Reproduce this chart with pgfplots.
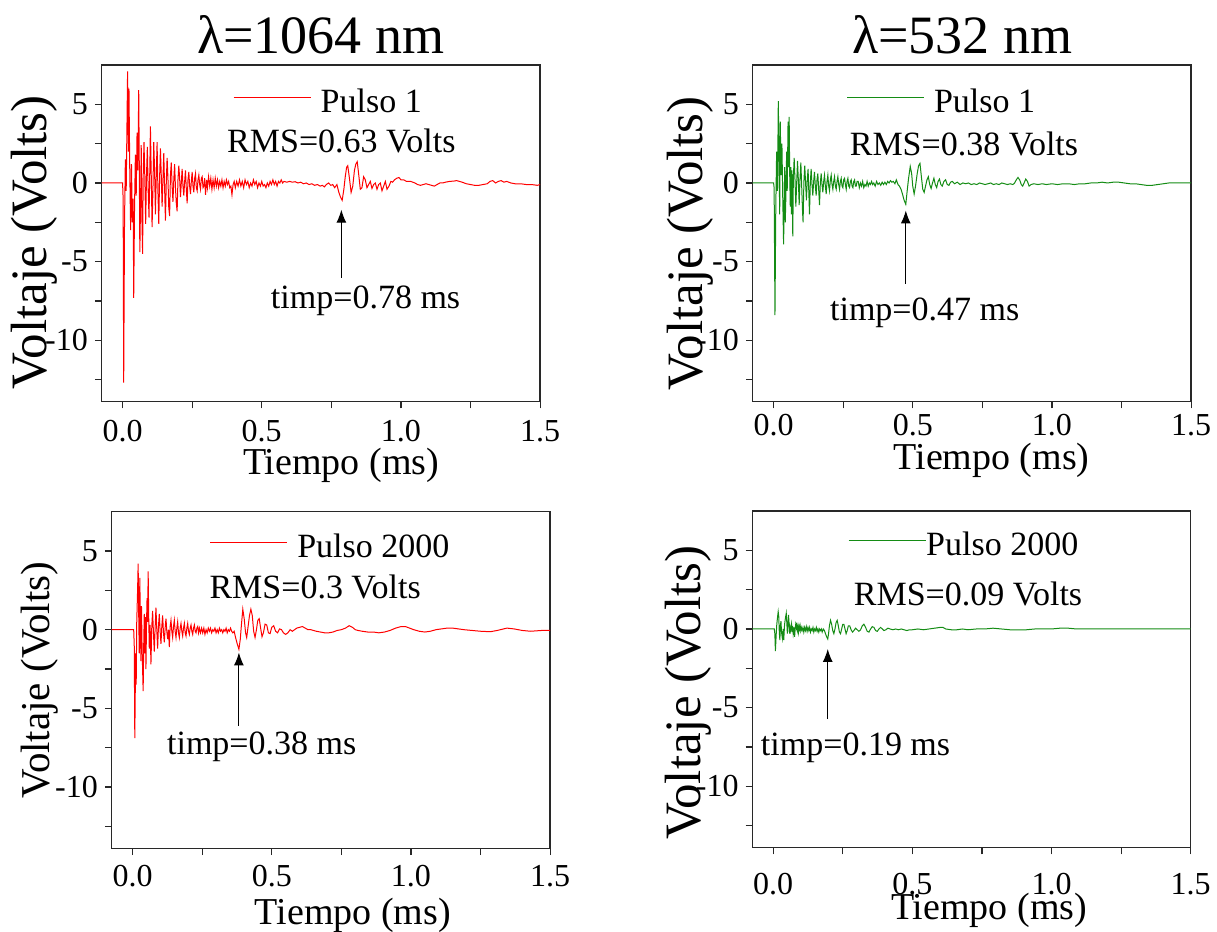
\documentclass[border=0pt]{standalone}
\usepackage{fontspec}
\setmainfont{Liberation Serif}
\usepackage{pgfplots}
\pgfplotsset{compat=1.18}
\usetikzlibrary{arrows.meta}
\definecolor{myred}{RGB}{255,0,0}
\definecolor{mygreen}{RGB}{20,140,20}
\definecolor{axgray}{RGB}{40,40,40}
\tikzset{
 ann/.style={font=\fontsize{17}{17}\selectfont, anchor=base, inner sep=0pt},
 arr/.style={line width=0.55pt, -{Latex[length=6.5pt,width=5pt]}},
}
\pgfplotsset{
 panel/.style={
  scale only axis, width=219.2pt, height=168.3pt,
  xmin=-0.075, xmax=1.5, ymin=-13.9, ymax=7.5,
  xtick={0,0.5,1,1.5}, xticklabels={0.0,0.5,1.0,1.5},
  ytick={-10,-5,0,5}, yticklabels={-10,-5,0,5},
  minor xtick={0.25,0.75,1.25}, minor ytick={-12.5,-7.5,-2.5,2.5},
  tick align=outside, tick pos=left,
  major tick length=3.35pt, minor tick length=3.35pt,
  axis line style={line width=0.75pt, draw=axgray},
  every tick/.style={line width=0.6pt, draw=axgray},
  xticklabel style={font=\fontsize{16}{16}\selectfont, anchor=base, inner sep=0pt},
  yticklabel style={font=\fontsize{16}{16}\selectfont, anchor=east, inner sep=0pt},
  yticklabel shift=3.35pt,
  xlabel={Tiempo (ms)}, ylabel={Voltaje (Volts)},
  xlabel style={font=\fontsize{19}{19}\selectfont, anchor=base, inner sep=0pt},
  ylabel style={anchor=base, inner sep=0pt},
  title style={font=\fontsize{27}{27}\selectfont, anchor=base, inner sep=0pt},
  legend style={draw=none, fill=none, inner sep=0pt, outer sep=0pt, font=\fontsize{17}{17}\selectfont, anchor=west, nodes={inner sep=0pt}},
  legend image code/.code={\draw[##1] (0pt,2.3pt) -- (38.5pt,2.3pt); \path[draw=none,fill=none] (0pt,-6pt) rectangle (43.5pt,6pt);},
  every axis plot/.append style={line width=0.5pt},
 },
}
\begin{document}
\begin{tikzpicture}
\useasboundingbox (0,0) rectangle (608.5pt,-466pt);
% ---------------- top left
\begin{axis}[panel, at={(50.85pt,-32.5pt)}, anchor=north west,
  title={λ=1064 nm}, title style={at={(axis description cs:0.5,1)}},
  xticklabel shift=16.65pt,
  xlabel style={at={(axis description cs:0.546,-0.2168)}},
  ylabel style={font=\fontsize{25.5}{25.5}\selectfont, at={(axis description cs:-0.1255,0.473)}},
  legend style={at={(axis description cs:0.300,0.8895)}}]
\addplot[myred] coordinates {
(-0.075,0) (0.000,0) (0.002,-1.0) (0.004,-12.7) (0.007,-2.5) (0.010,1.5) (0.013,-0.5) (0.016,4.0) (0.018,7.1) (0.021,2.0)
(0.023,6.0) (0.026,0.5) (0.029,-3.0) (0.032,1.2) (0.035,-2.5) (0.038,-1.0) (0.040,-7.3) (0.043,-1.5) (0.046,1.8) (0.049,-0.8)
(0.052,3.2) (0.055,0.8) (0.058,5.9) (0.060,1.2) (0.062,-4.4) (0.065,-0.8) (0.067,2.4) (0.069,-1.8) (0.072,-4.5) (0.074,0.4)
(0.077,2.6) (0.080,0.3) (0.083,-2.6) (0.086,0.5) (0.089,2.3) (0.092,-0.5) (0.095,-2.2) (0.098,1.0) (0.100,3.6) (0.103,0.5)
(0.106,-2.8) (0.109,-0.5) (0.112,2.6) (0.115,0.8) (0.118,-2.0) (0.121,0.4) (0.124,2.6) (0.127,-0.5) (0.130,-2.6) (0.133,0.3)
(0.136,2.2) (0.139,0.5) (0.142,-1.5) (0.145,0.2) (0.148,1.9) (0.151,-0.3) (0.154,-2.4) (0.157,0.0) (0.160,1.6) (0.163,0.3)
(0.166,-1.6) (0.169,-2.1) (0.172,0.5) (0.175,1.3) (0.178,-0.2) (0.181,-1.2) (0.184,0.2) (0.187,1.2) (0.190,-0.3) (0.193,-1.3)
(0.196,-1.8) (0.199,0.2) (0.202,1.1) (0.205,0.3) (0.208,-0.9) (0.211,0.0) (0.214,0.9) (0.217,-0.2) (0.220,-0.8) (0.223,0.1)
(0.226,0.8) (0.229,-0.4) (0.232,-1.3) (0.235,0.2) (0.238,0.7) (0.241,-0.2) (0.244,-0.7) (0.247,0.1) (0.250,0.7) (0.253,-0.2)
(0.256,-0.6) (0.259,0.3) (0.262,0.6) (0.265,-0.3) (0.268,-0.5) (0.271,0.2) (0.274,0.5) (0.277,-0.1) (0.280,-0.4) (0.283,0.3)
(0.286,0.4) (0.289,-0.3) (0.292,-0.2) (0.295,0.3) (0.298,-0.75) (0.302,0.2)
(0.305,-0.3) (0.309,0.4) (0.313,-0.2) (0.317,0.3) (0.321,-0.4) (0.325,0.2) (0.329,-0.3)
(0.333,0.3) (0.337,-0.2) (0.341,0.2) (0.345,-0.3) (0.349,0.1) (0.353,-0.2) (0.357,0.2) (0.361,-0.3) (0.365,0.1) (0.369,-0.2)
(0.373,0.2) (0.377,-0.1) (0.381,0.1) (0.385,-0.3) (0.389,-0.2) (0.393,-0.75) (0.397,-0.1) (0.401,0.1) (0.405,-0.3) (0.410,0.1)
(0.415,-0.2) (0.420,0.2) (0.425,-0.2) (0.430,0.1) (0.435,-0.3) (0.440,0.2) (0.445,-0.1) (0.450,0.1) (0.455,-0.3) (0.460,0.0)
(0.465,-0.2) (0.470,0.2) (0.475,-0.1) (0.480,0.1) (0.485,-0.3) (0.490,0.0) (0.495,-0.2) (0.500,0.1) (0.505,-0.2) (0.510,-0.1)
(0.515,-0.3) (0.520,0.0) (0.525,-0.2) (0.530,0.1) (0.535,-0.1) (0.540,0.2) (0.545,-0.1) (0.550,0.1) (0.555,-0.2) (0.560,0.1)
(0.565,0.0) (0.570,0.2) (0.575,0.0) (0.580,0.1) (0.590,0.05) (0.600,0.1) (0.610,0.05) (0.620,0.08) (0.630,0.0) (0.640,0.05)
(0.650,-0.05) (0.660,0.0) (0.670,-0.1) (0.680,-0.05) (0.690,-0.15) (0.700,-0.1) (0.710,-0.2) (0.718,-0.15) (0.725,-0.25) (0.732,-0.1)
(0.740,0.0) (0.748,-0.15) (0.755,-0.1) (0.762,-0.3) (0.770,-0.1) (0.777,-0.6) (0.783,-0.9) (0.789,-1.1) (0.795,-0.4) (0.800,0.4)
(0.805,1.0) (0.809,1.1) (0.815,0.3) (0.821,-0.6) (0.827,-0.2) (0.833,0.8) (0.838,1.2) (0.843,1.35) (0.848,0.6) (0.854,-0.4)
(0.860,-0.3) (0.866,0.4) (0.872,0.2) (0.878,-0.3) (0.884,-0.1) (0.890,0.1) (0.896,-0.35) (0.902,-0.1) (0.908,0.0) (0.914,-0.4)
(0.920,-0.1) (0.926,0.0) (0.932,-0.5) (0.938,-0.2) (0.944,0.1) (0.950,-0.4) (0.957,-0.2) (0.964,0.1) (0.970,0.05) (0.977,0.2)
(0.985,0.3) (0.993,0.35) (1.000,0.2) (1.010,0.2) (1.020,0.1) (1.035,0.1) (1.050,0.0) (1.060,-0.1) (1.070,-0.15) (1.080,-0.1)
(1.090,-0.05) (1.100,-0.1) (1.110,-0.15) (1.120,-0.2) (1.130,-0.1) (1.140,0.0) (1.150,0.0) (1.160,0.05) (1.175,0.1) (1.190,0.12)
(1.200,0.15) (1.210,0.1) (1.220,0.05) (1.235,-0.05) (1.250,-0.1) (1.265,-0.15) (1.280,-0.15) (1.295,-0.1) (1.310,-0.05) (1.320,0.1)
(1.330,0.15) (1.340,0.0) (1.350,0.1) (1.360,0.15) (1.370,0.05) (1.380,0.1) (1.395,0.0) (1.410,-0.05) (1.430,-0.05) (1.450,-0.1)
(1.470,-0.1) (1.490,-0.15) (1.500,-0.1)
};
\addlegendentry{Pulso 1}
\node[ann] at (axis cs:0.786,1.95) {RMS=0.63 Volts};
\node[ann] at (axis cs:0.873,-7.95) {timp=0.78 ms};
\draw[arr] (axis cs:0.786,-6.04) -- (axis cs:0.786,-1.7);
\end{axis}
% ---------------- top right
\begin{axis}[panel, at={(376.35pt,-32.5pt)}, anchor=north west,
  title={λ=532 nm}, title style={at={(axis description cs:0.478,1)}},
  xticklabel shift=13.65pt,
  xlabel style={at={(axis description cs:0.545,-0.202)}},
  ylabel style={font=\fontsize{25.5}{25.5}\selectfont, at={(axis description cs:-0.114,0.47)}},
  legend style={at={(axis description cs:0.214,0.8895)}}]
\addplot[mygreen] coordinates {
(-0.078,0) (0.000,0) (0.002,-0.3) (0.005,-8.4) (0.008,-1.5) (0.011,2.0) (0.014,-0.5) (0.017,5.2) (0.020,1.0) (0.022,-2.0)
(0.024,3.9) (0.027,0.5) (0.030,2.5) (0.033,-1.0) (0.036,-3.9) (0.038,-1.5) (0.040,1.0) (0.042,-2.5) (0.044,-1.0) (0.047,2.0)
(0.049,-0.5) (0.052,3.9) (0.054,1.0) (0.056,4.2) (0.058,0.5) (0.060,-1.5) (0.062,1.0) (0.064,-2.0) (0.066,0.8) (0.069,-3.4)
(0.071,0.3) (0.074,1.6) (0.077,0.2) (0.080,-1.5) (0.083,0.0) (0.086,1.4) (0.089,0.2) (0.092,-1.4) (0.095,0.3) (0.098,1.3)
(0.101,-0.2) (0.104,-1.8) (0.106,-2.5) (0.109,0.1) (0.112,1.1) (0.115,0.0) (0.118,-1.1) (0.121,0.2) (0.124,0.9) (0.127,-0.8)
(0.129,-2.0) (0.132,0.0) (0.135,0.9) (0.138,-0.1) (0.141,-0.8) (0.144,0.1) (0.147,0.7) (0.150,-0.2) (0.153,-0.8) (0.156,0.2)
(0.159,0.6) (0.162,-0.4) (0.165,-1.4) (0.168,0.0) (0.171,0.6) (0.174,-0.1) (0.177,-0.6) (0.180,0.1) (0.183,0.5) (0.186,-0.2)
(0.189,-0.7) (0.192,0.1) (0.195,0.5) (0.198,-0.2) (0.201,-0.5) (0.204,0.2) (0.207,0.5) (0.210,-0.1) (0.213,-0.4) (0.216,0.1)
(0.219,0.4) (0.222,-0.2) (0.225,-0.4) (0.228,0.1) (0.231,0.4) (0.234,-0.1) (0.237,-0.4) (0.240,0.1) (0.243,0.3) (0.246,-0.2)
(0.249,-0.3) (0.252,0.2) (0.255,0.3) (0.258,-0.1) (0.261,-0.4) (0.264,0.1) (0.267,0.3) (0.270,-0.2) (0.273,-0.3) (0.276,0.1)
(0.279,0.2) (0.282,-0.2) (0.285,-0.3) (0.288,0.1) (0.291,0.2) (0.294,-0.2) (0.297,-0.2) (0.300,0.1)
(0.304,0.1) (0.308,-0.3) (0.312,0.0) (0.316,-0.2) (0.320,0.1) (0.324,-0.3) (0.328,-0.1) (0.332,-0.2) (0.336,0.1) (0.340,-0.2)
(0.344,0.0) (0.348,-0.1) (0.352,0.1) (0.356,-0.1) (0.360,0.0) (0.365,-0.2) (0.370,0.1) (0.375,-0.1) (0.380,0.0) (0.385,-0.15)
(0.390,0.05) (0.395,-0.1) (0.400,0.05) (0.405,-0.1) (0.410,0.1) (0.415,0.0) (0.420,0.15) (0.425,0.05) (0.430,0.1) (0.436,-0.05)
(0.441,0.2) (0.447,-0.1) (0.452,-0.2) (0.458,-0.4) (0.463,-0.7) (0.469,-1.1) (0.475,-1.36) (0.480,-0.5) (0.485,0.3) (0.491,1.05)
(0.496,0.6) (0.500,-0.2) (0.505,-0.7) (0.510,-0.2) (0.516,0.6) (0.521,1.1) (0.526,1.25) (0.531,0.4) (0.536,-0.4) (0.541,-0.6)
(0.546,-0.2) (0.551,0.2) (0.556,0.4) (0.561,-0.1) (0.566,-0.35) (0.571,0.0) (0.576,0.3) (0.581,-0.1) (0.586,-0.3) (0.591,0.1)
(0.596,0.25) (0.601,-0.1) (0.606,-0.2) (0.612,0.1) (0.618,0.2) (0.624,-0.1) (0.630,-0.15) (0.636,0.05) (0.642,0.1) (0.650,-0.05)
(0.660,0.05) (0.670,-0.1) (0.680,0.0) (0.690,-0.05) (0.700,0.0) (0.710,-0.1) (0.720,-0.05) (0.730,-0.1) (0.740,0.0) (0.750,-0.05)
(0.760,-0.1) (0.770,-0.05) (0.780,0.0) (0.790,-0.1) (0.800,-0.05) (0.810,-0.1) (0.820,0.0) (0.830,-0.05) (0.840,-0.1) (0.850,-0.05)
(0.860,-0.1) (0.866,0.0) (0.872,0.2) (0.878,0.35) (0.884,0.2) (0.890,-0.1) (0.895,-0.2) (0.900,0.0) (0.906,0.25) (0.912,0.1)
(0.918,-0.2) (0.925,-0.1) (0.935,-0.05) (0.950,-0.1) (0.965,-0.05) (0.980,-0.1) (1.000,-0.05) (1.020,-0.1) (1.040,-0.05) (1.060,-0.05)
(1.080,-0.1) (1.100,-0.05) (1.120,-0.05) (1.140,0.0) (1.160,0.0) (1.180,0.05) (1.200,0.0) (1.220,0.05) (1.240,0.05) (1.260,0.0)
(1.280,-0.05) (1.300,-0.05) (1.320,-0.1) (1.340,-0.15) (1.360,-0.15) (1.380,-0.1) (1.400,-0.05) (1.420,0.0) (1.440,0.0) (1.460,0.0)
(1.480,0.0) (1.500,0.0)
};
\addlegendentry{Pulso 1}
\node[ann] at (axis cs:0.684,1.77) {RMS=0.38 Volts};
\node[ann] at (axis cs:0.543,-8.73) {timp=0.47 ms};
\draw[arr] (axis cs:0.475,-6.4) -- (axis cs:0.475,-1.75);
\end{axis}
% ---------------- bottom left
\begin{axis}[panel, at={(55.85pt,-255.85pt)}, anchor=north west,
  xticklabel shift=15.85pt,
  xlabel style={at={(axis description cs:0.55,-0.226)}},
  ylabel style={font=\fontsize{20.5}{20.5}\selectfont, at={(axis description cs:-0.1427,0.5)}},
  legend style={at={(axis description cs:0.2238,0.8945)}}]
\addplot[myred] coordinates {
(-0.075,0) (0.000,0) (0.004,0.0) (0.006,-1.0) (0.008,-6.9) (0.011,-1.5) (0.013,-3.5) (0.015,0.5) (0.018,2.5) (0.020,4.2)
(0.022,1.0) (0.024,-1.5) (0.026,3.3) (0.028,0.5) (0.030,-2.0) (0.032,1.5) (0.034,-1.0) (0.036,-2.5) (0.038,-3.9) (0.040,-1.0)
(0.042,1.0) (0.044,-1.5) (0.046,0.8) (0.048,-2.5) (0.050,0.3) (0.052,2.0) (0.054,0.5) (0.056,3.7) (0.058,0.8) (0.060,-1.2)
(0.063,0.3) (0.066,-2.2) (0.069,0.2) (0.072,1.2) (0.075,-0.2) (0.078,-1.4) (0.081,0.1) (0.084,1.4) (0.087,0.0) (0.090,-1.2)
(0.093,0.2) (0.096,1.0) (0.099,-0.1) (0.102,-0.9) (0.105,0.2) (0.108,0.9) (0.111,-0.2) (0.114,-0.8) (0.117,0.1) (0.120,0.7)
(0.123,-0.1) (0.126,-0.6) (0.129,0.0) (0.132,-1.1) (0.135,0.2) (0.138,0.6) (0.141,-0.1) (0.144,-0.5) (0.147,0.2) (0.150,0.6)
(0.153,-0.1) (0.156,-0.5) (0.159,0.1) (0.162,0.5) (0.165,-0.2) (0.168,-0.5) (0.171,0.1) (0.174,0.4) (0.177,-0.1) (0.180,-0.4)
(0.183,0.1) (0.186,0.4) (0.189,-0.2) (0.192,-0.4) (0.195,0.1) (0.198,0.4) (0.201,-0.1) (0.204,-0.3) (0.207,0.1) (0.210,0.3)
(0.213,-0.1) (0.216,-0.3) (0.219,0.1) (0.222,0.3) (0.225,-0.1) (0.228,-0.2) (0.231,0.1) (0.234,0.2) (0.237,-0.2) (0.240,0.1)
(0.244,-0.2) (0.248,0.1) (0.252,-0.2)
(0.256,0.1) (0.260,-0.3) (0.264,0.0) (0.268,-0.2) (0.272,0.1) (0.276,-0.1) (0.280,0.1) (0.284,-0.2) (0.288,0.0) (0.292,-0.1)
(0.296,0.1) (0.300,-0.2) (0.304,0.0) (0.308,-0.2) (0.312,0.1) (0.316,-0.1) (0.320,0.0) (0.324,-0.2) (0.328,0.0) (0.332,-0.1)
(0.336,0.1) (0.340,-0.2) (0.344,0.0) (0.348,-0.1) (0.352,0.1) (0.356,-0.1) (0.360,-0.2) (0.365,-0.1) (0.370,-0.5) (0.376,-0.9)
(0.382,-1.25) (0.387,-0.6) (0.391,0.3) (0.396,1.3) (0.401,0.7) (0.406,-0.2) (0.410,-0.5) (0.415,0.2) (0.420,0.9) (0.425,1.3)
(0.430,0.9) (0.435,-0.1) (0.440,-0.5) (0.445,0.0) (0.450,0.6) (0.455,0.7) (0.460,0.1) (0.465,-0.45) (0.470,-0.2) (0.476,0.35)
(0.482,0.3) (0.488,-0.2) (0.494,-0.25) (0.500,0.15) (0.507,0.25) (0.514,-0.1) (0.521,-0.2) (0.528,0.05) (0.535,0.0) (0.542,-0.2)
(0.550,-0.3) (0.558,-0.2) (0.566,0.0) (0.574,-0.1) (0.582,0.0) (0.590,0.1) (0.600,0.15) (0.610,0.2) (0.620,0.1) (0.630,0.0)
(0.640,0.0) (0.650,-0.05) (0.660,-0.1) (0.675,-0.15) (0.690,-0.2) (0.705,-0.2) (0.720,-0.15) (0.735,-0.05) (0.750,0.0) (0.765,0.1)
(0.778,0.25) (0.790,0.15) (0.800,0.0) (0.810,-0.05) (0.825,-0.1) (0.845,-0.15) (0.865,-0.15) (0.885,-0.2) (0.905,-0.15) (0.925,-0.05)
(0.945,0.1) (0.965,0.2) (0.980,0.2) (0.995,0.1) (1.010,0.0) (1.030,-0.1) (1.050,-0.15) (1.070,-0.1) (1.090,0.0) (1.110,0.05)
(1.130,0.1) (1.150,0.1) (1.170,0.05) (1.190,0.0) (1.220,-0.05) (1.250,-0.1) (1.285,-0.13) (1.310,-0.05) (1.345,0.1) (1.370,0.05)
(1.400,-0.05) (1.430,-0.1) (1.470,-0.05) (1.500,-0.05)
};
\addlegendentry{Pulso 2000}
\node[ann] at (axis cs:0.656,1.96) {RMS=0.3 Volts};
\node[ann] at (axis cs:0.464,-7.92) {timp=0.38 ms};
\draw[arr] (axis cs:0.382,-6.1) -- (axis cs:0.382,-1.45);
\end{axis}
% ---------------- bottom right
\begin{axis}[panel, at={(376.15pt,-255.5pt)}, anchor=north west,
  xticklabel shift=20pt,
  xlabel style={at={(axis description cs:0.54,-0.2126)}},
  ylabel style={font=\fontsize{25.5}{25.5}\selectfont, at={(axis description cs:-0.119,0.46)}},
  legend image code/.code={\draw[#1] (0pt,2.3pt) -- (38.5pt,2.3pt); \path[draw=none,fill=none] (0pt,-6pt) rectangle (38.5pt,6pt);},
  legend style={at={(axis description cs:0.2188,0.8977)}}]
\addplot[mygreen] coordinates {
(-0.075,0) (0.000,0) (0.004,0.0) (0.006,-0.3) (0.008,-1.4) (0.011,-0.3) (0.013,0.3) (0.016,0.8) (0.018,1.1) (0.020,0.8)
(0.022,-0.2) (0.024,-0.7) (0.026,0.2) (0.028,0.5) (0.030,-0.2) (0.033,-0.6) (0.036,0.0) (0.038,-0.7) (0.041,0.3) (0.044,0.7)
(0.047,1.0) (0.049,0.4) (0.051,-0.3) (0.053,0.2) (0.055,0.9) (0.057,0.4) (0.059,-0.3) (0.061,0.1) (0.063,-0.1) (0.066,0.3)
(0.068,-0.2) (0.070,0.2) (0.072,-0.3) (0.075,0.1) (0.077,-0.5) (0.079,0.0) (0.081,0.3) (0.083,0.1) (0.085,0.4) (0.087,-0.1)
(0.089,0.1) (0.091,-0.2) (0.093,0.2) (0.095,0.0) (0.097,0.2) (0.099,-0.1) (0.101,0.1) (0.104,-0.1) (0.107,0.1) (0.110,-0.2)
(0.113,0.1) (0.116,-0.1) (0.119,0.15) (0.122,-0.15) (0.125,0.1) (0.128,-0.1) (0.131,0.1) (0.134,-0.2) (0.137,0.0) (0.140,-0.1)
(0.143,0.1) (0.146,-0.2) (0.149,0.0) (0.152,-0.1) (0.155,0.1) (0.158,-0.15) (0.161,0.0) (0.164,-0.2) (0.167,0.0) (0.170,-0.1)
(0.173,0.0) (0.176,-0.2) (0.180,0.0) (0.184,-0.1) (0.188,-0.3) (0.192,-0.5) (0.196,-0.64) (0.199,-0.3) (0.202,0.2) (0.206,0.55)
(0.210,0.3) (0.214,-0.1) (0.218,-0.3) (0.222,0.0) (0.226,0.4) (0.230,0.55) (0.234,0.2) (0.238,-0.2) (0.242,-0.3) (0.246,0.0)
(0.250,0.3) (0.254,0.3) (0.258,0.0) (0.262,-0.3) (0.266,-0.1) (0.270,0.2) (0.275,0.2) (0.280,-0.05) (0.285,-0.2) (0.290,-0.1)
(0.296,0.05) (0.302,-0.05) (0.308,-0.15) (0.314,-0.05) (0.320,0.2) (0.326,0.3) (0.332,0.1) (0.338,-0.15) (0.344,-0.2) (0.350,0.0)
(0.356,0.15) (0.362,0.1) (0.368,-0.1) (0.374,-0.15) (0.380,0.0) (0.386,0.1) (0.392,0.0) (0.398,-0.1) (0.405,-0.05) (0.412,0.05)
(0.420,0.0) (0.430,-0.05) (0.440,0.0) (0.450,-0.05) (0.460,0.0) (0.470,-0.05) (0.480,-0.1) (0.490,-0.05) (0.500,-0.05) (0.520,0.0)
(0.540,-0.05) (0.560,0.0) (0.580,0.05) (0.600,0.1) (0.610,0.1) (0.620,0.0) (0.640,-0.05) (0.660,-0.05) (0.680,0.0) (0.700,-0.05)
(0.730,0.0) (0.760,0.0) (0.790,0.05) (0.820,0.0) (0.850,-0.05) (0.880,-0.05) (0.910,-0.05) (0.940,0.0) (0.970,0.0) (1.000,0.0)
(1.030,0.05) (1.060,0.05) (1.090,0.0) (1.120,0.0) (1.150,0.0) (1.180,0.0) (1.210,0.0) (1.240,0.0) (1.270,0.0) (1.300,0.0)
(1.340,0.0) (1.380,0.0) (1.420,0.0) (1.460,0.0) (1.500,0.0)
};
\addlegendentry{Pulso 2000}
\node[ann] at (axis cs:0.70,1.48) {RMS=0.09 Volts};
\node[ann] at (axis cs:0.296,-8.07) {timp=0.19 ms};
\draw[arr] (axis cs:0.196,-5.73) -- (axis cs:0.196,-1.27);
\end{axis}
\end{tikzpicture}
\end{document}
